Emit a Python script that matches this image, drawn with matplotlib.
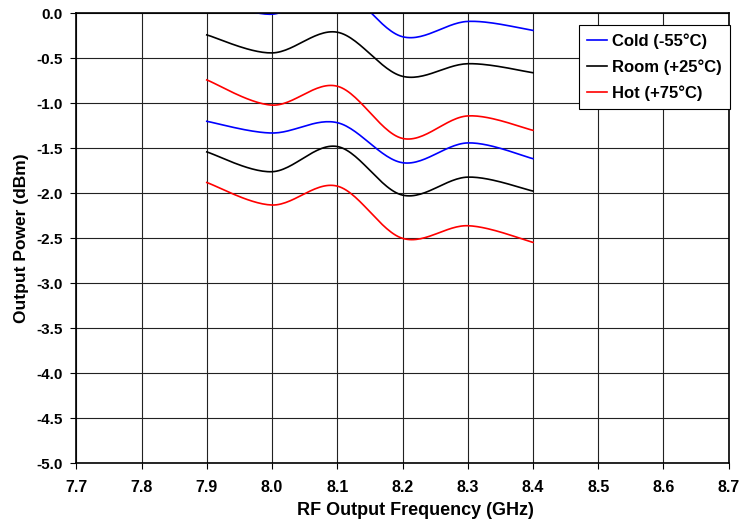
import numpy as np
from matplotlib import pyplot as plt
from matplotlib.lines import Line2D

plt.rcParams['font.family'] = ['Liberation Sans', 'DejaVu Sans']
plt.rcParams['font.weight'] = 'bold'

# dane
freq = [7.9, 8.0, 8.1, 8.2, 8.3, 8.4]
cold_1 = [0.20, -0.01, 0.28, -0.26, -0.09, -0.19]
room_1 = [-0.24, -0.44, -0.21, -0.70, -0.56, -0.66]
hot_1 = [-0.74, -1.02, -0.81, -1.39, -1.14, -1.30]
cold_2 = [-1.20, -1.33, -1.215, -1.66, -1.44, -1.615]
room_2 = [-1.54, -1.76, -1.48, -2.02, -1.82, -1.975]
hot_2 = [-1.88, -2.13, -1.92, -2.50, -2.36, -2.545]

labels = ['Cold (-55°C)', 'Room (+25°C)', 'Hot (+75°C)']
colors = ['#0000ff', '#000000', '#ff0000']
x_ticks = [7.7, 7.8, 7.9, 8.0, 8.1, 8.2, 8.3, 8.4, 8.5, 8.6, 8.7]
y_ticks = [-5.0, -4.5, -4.0, -3.5, -3.0, -2.5, -2.0, -1.5, -1.0, -0.5, 0.0]


def smooth(x, y, n=30):
    # wygladzanie jak w Excelu (Catmull-Rom)
    x = np.asarray(x, float)
    y = np.asarray(y, float)
    xs, ys = [], []
    for i in range(len(x) - 1):
        x0 = x[i - 1] if i > 0 else x[i]
        y0 = y[i - 1] if i > 0 else y[i]
        x3 = x[i + 2] if i + 2 < len(x) else x[i + 1]
        y3 = y[i + 2] if i + 2 < len(y) else y[i + 1]
        mx1 = (x[i + 1] - x0) / 2
        my1 = (y[i + 1] - y0) / 2
        mx2 = (x3 - x[i]) / 2
        my2 = (y3 - y[i]) / 2
        t = np.linspace(0, 1, n)
        h00 = 2 * t**3 - 3 * t**2 + 1
        h10 = t**3 - 2 * t**2 + t
        h01 = -2 * t**3 + 3 * t**2
        h11 = t**3 - t**2
        xs.extend(h00 * x[i] + h10 * mx1 + h01 * x[i + 1] + h11 * mx2)
        ys.extend(h00 * y[i] + h10 * my1 + h01 * y[i + 1] + h11 * my2)
    return xs, ys


fig = plt.figure(figsize=(7.44, 5.22), dpi=100)
ax = fig.add_axes([0.1026, 0.1124, 0.8768, 0.8621])

for serie, c in zip([cold_1, room_1, hot_1, cold_2, room_2, hot_2], colors * 2):
    xs, ys = smooth(freq, serie)
    ax.plot(xs, ys, color=c, linewidth=1.2)

ax.set_xlim(7.7, 8.7)
ax.set_ylim(-5.0, 0.0)
ax.set_xticks(x_ticks)
ax.set_yticks(y_ticks)
ax.set_xticklabels(['%.1f' % v for v in x_ticks])
ax.set_yticklabels(['%.1f' % v for v in y_ticks])
ax.grid(True, color='#222222', linewidth=0.8)
ax.tick_params(direction='out', length=4.3, width=0.8)
ax.tick_params(axis='x', labelsize=11.5, pad=8)
ax.tick_params(axis='y', labelsize=11, pad=5.5)
for s in ax.spines.values():
    s.set_linewidth(1.2)

ax.set_xlabel('RF Output Frequency (GHz)', fontsize=13, fontweight='bold', labelpad=4)
ax.xaxis.set_label_coords(0.52, -0.085)
ax.set_ylabel('Output Power (dBm)', fontsize=12.5, fontweight='bold', labelpad=5)

uchwyty = [Line2D([0], [0], color=c, linewidth=1.2) for c in colors]
leg = ax.legend(uchwyty, labels, loc='upper right', bbox_to_anchor=(1.002, 0.974),
                fancybox=False, framealpha=1, edgecolor='black', handlelength=1.2,
                handletextpad=0.3, borderpad=0.5, labelspacing=0.62,
                borderaxespad=0, prop={'size': 12, 'weight': 'bold'})
leg.get_frame().set_linewidth(0.8)

plt.savefig('out.png', dpi=100)
